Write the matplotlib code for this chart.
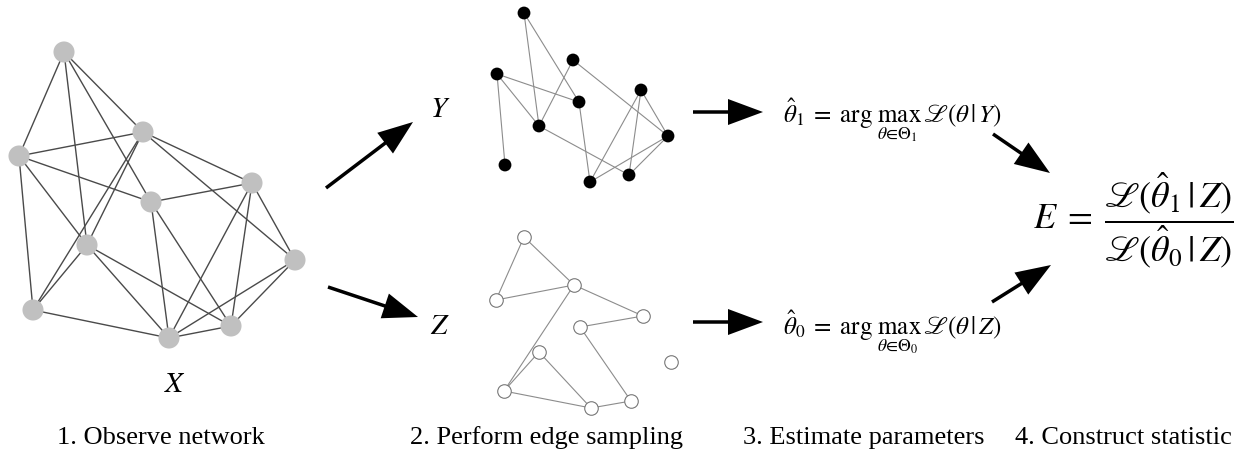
import matplotlib.pyplot as plt

plt.rcParams['mathtext.fontset'] = 'stix'
plt.rcParams['font.family'] = 'Liberation Serif'

# observed network X (pixel positions of the nodes)
x_nodes_x = [64, 143, 19, 252, 151, 87, 295, 33, 169, 231]
x_nodes_y = [53, 133, 157, 184, 203, 246, 261, 311, 339, 327]
x_edges = [(0, 2), (0, 5), (0, 4), (0, 1), (2, 1), (2, 4), (2, 5), (2, 7),
           (1, 5), (1, 7), (5, 7), (1, 3), (1, 6), (3, 4), (3, 8), (3, 9),
           (3, 6), (4, 8), (4, 9), (5, 8), (5, 9), (7, 8), (6, 8), (6, 9),
           (8, 9)]

# sampled network Y
y_nodes_x = [524, 573, 497, 641, 579, 539, 668, 505, 590, 629]
y_nodes_y = [14, 61, 75, 91, 103, 127, 137, 166, 183, 176]
y_edges = [(0, 5), (0, 4), (2, 4), (2, 5), (2, 7), (1, 5), (1, 6), (4, 8),
           (5, 9), (3, 8), (3, 9), (3, 6), (6, 8), (6, 9)]

# sampled network Z
z_nodes_x = [524, 574, 496, 643, 580, 539, 671, 504, 591, 631]
z_nodes_y = [238, 286, 301, 317, 328, 353, 363, 392, 409, 402]
z_edges = [(0, 2), (0, 1), (2, 1), (1, 3), (1, 7), (3, 4), (4, 9), (5, 7),
           (5, 8), (7, 8), (8, 9)]

# arrows (start x, start y, end x, end y)
pfeile = [
    (326, 189, 413, 123),
    (328, 288, 418, 318),
    (693, 113, 763, 113),
    (693, 323, 763, 323),
    (993, 135, 1050, 174),
    (992, 303, 1051, 266),
]

schritte = ["1. Observe network", "2. Perform edge sampling",
            "3. Estimate parameters", "4. Construct statistic"]
schritt_x = [161, 546, 864, 1123]

fig = plt.figure(figsize=(12.45, 4.56), dpi=100)
ax = fig.add_axes([0, 0, 1, 1])
ax.set_xlim(0, 1245)
ax.set_ylim(456, 0)
ax.axis('off')


def zeichne_netz(xs, ys, kanten, farbe_kante, lw, **knoten_stil):
    for a, b in kanten:
        ax.plot([xs[a], xs[b]], [ys[a], ys[b]], color=farbe_kante, lw=lw, zorder=1)
    ax.scatter(xs, ys, zorder=2, **knoten_stil)


zeichne_netz(x_nodes_x, x_nodes_y, x_edges, '#4a4a4a', 1.0,
             s=230, color='#c0c0c0', edgecolors='none')
zeichne_netz(y_nodes_x, y_nodes_y, y_edges, '#8c8c8c', 0.8,
             s=85, color='black', edgecolors='none')
zeichne_netz(z_nodes_x, z_nodes_y, z_edges, '#8c8c8c', 0.8,
             s=95, color='white', edgecolors='#777777', linewidths=0.8)

for x0, y0, x1, y1 in pfeile:
    ax.arrow(x0, y0, x1 - x0, y1 - y0, width=3.5, head_width=26,
             head_length=35, length_includes_head=True, color='black', lw=0)

ax.text(440, 110, r'$Y$', fontsize=21, ha='center', va='center')
ax.text(440, 327, r'$Z$', fontsize=21, ha='center', va='center')
ax.text(175, 385, r'$X$', fontsize=21, ha='center', va='center')

ax.text(783, 123,
        r'$\hat{\theta}_1 \;=\; \arg\,\max_{\theta\in\Theta_1}\, \mathscr{L}(\theta\,|\,Y)$',
        fontsize=18, ha='left', va='baseline')
ax.text(783, 335,
        r'$\hat{\theta}_0 \;=\; \arg\,\max_{\theta\in\Theta_0}\, \mathscr{L}(\theta\,|\,Z)$',
        fontsize=18, ha='left', va='baseline')

ax.text(1033, 220,
        r'$E \;=\; \dfrac{\mathscr{L}(\hat{\theta}_1\,|\,Z)}{\mathscr{L}(\hat{\theta}_0\,|\,Z)}$',
        fontsize=26, ha='left', va='center')

for txt, xpos in zip(schritte, schritt_x):
    ax.text(xpos, 438, txt, fontsize=19, ha='center', va='center')

fig.savefig('out.png', dpi=100, facecolor='white')
